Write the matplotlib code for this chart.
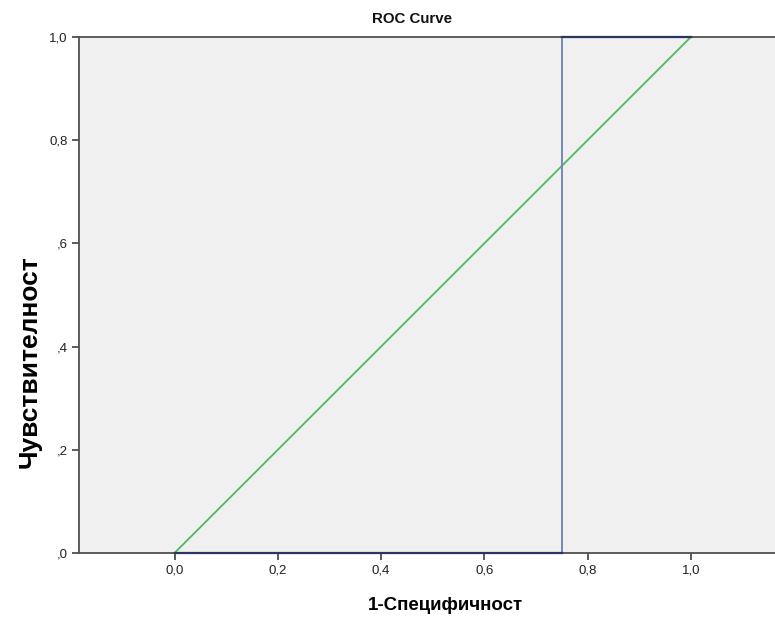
import matplotlib
matplotlib.use("Agg")
import matplotlib.pyplot as plt

# ROC curve data
roc_x = [0.0, 0.75, 0.75, 1.0]
roc_y = [0.0, 0.0, 1.0, 1.0]
ref_x = [0.0, 1.0]
ref_y = [0.0, 1.0]
xticks = [0.0, 0.2, 0.4, 0.6, 0.8, 1.0]
xtick_labels = ["0,0", "0,2", "0,4", "0,6", "0,8", "1,0"]
yticks = [0.0, 0.2, 0.4, 0.6, 0.8, 1.0]
ytick_labels = [",0", ",2", ",4", ",6", "0,8", "1,0"]

plt.rcParams['font.family'] = ['Liberation Sans', 'DejaVu Sans']

fig = plt.figure(figsize=(7.75, 6.2), dpi=100)
ax = fig.add_axes([79/775, 67/620, 1 - 79/775, (553-37)/620])
ax.set_facecolor('#f0f0f0')

ax.plot(ref_x, ref_y, color='#4dbb5f', lw=1.3, zorder=2)
ax.plot(roc_x, roc_y, color='#6f7fbf', lw=1.3, zorder=3)
# darker segments along frame
ax.plot(roc_x[:2], roc_y[:2], color='#2a3560', lw=1.6, zorder=4, clip_on=False)
ax.plot(roc_x[2:], roc_y[2:], color='#2a3560', lw=1.6, zorder=4, clip_on=False)

ax.set_xlim(-0.185, 1.163)
ax.set_ylim(0, 1)
ax.set_xticks(xticks)
ax.set_xticklabels(xtick_labels)
ax.set_yticks(yticks)
ax.set_yticklabels(ytick_labels)
ax.tick_params(direction='out', length=5, width=1.2, colors='#404040', labelsize=9.5,
               labelcolor='#222222', pad=3)
for s in ['left', 'bottom', 'top']:
    ax.spines[s].set_color('#505050')
    ax.spines[s].set_linewidth(1.3)
ax.spines['right'].set_visible(False)

fig.text(412/775, 1 - 19/620, "ROC Curve", ha='center', va='center', fontsize=10.8,
         fontweight='bold', color='#111111')
fig.text(445/775, 1 - 606/620, "1-Специфичност", ha='center', va='center', fontsize=13.5,
         fontweight='bold', color='#000000')
fig.text(30/775, 1 - 362/620, "Чувствителност", ha='center', va='center', fontsize=19,
         fontweight='bold', color='#000000', rotation=90)

fig.savefig("out.png", dpi=100)
